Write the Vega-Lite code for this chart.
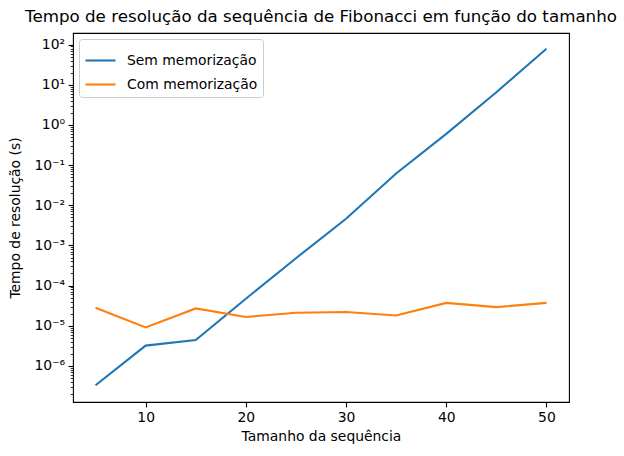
{
  "$schema": "https://vega.github.io/schema/vega-lite/v6.json",
  "autosize": {"type": "none"},
  "width": 496,
  "height": 369,
  "padding": {"left": 73, "top": 33, "right": 55, "bottom": 54},
  "background": "white",
  "config": {
    "font": "DejaVu Sans",
    "view": {"stroke": "black", "strokeWidth": 1.1},
    "axis": {
      "domain": false,
      "grid": false,
      "tickColor": "black",
      "tickWidth": 1.1,
      "tickSize": 4.9,
      "labelColor": "black",
      "labelFontSize": 13.9,
      "labelFont": "DejaVu Sans",
      "labelPadding": 3.5,
      "titleFont": "DejaVu Sans",
      "titleFontSize": 13.9,
      "titleFontWeight": "normal",
      "titleColor": "black"
    }
  },
  "title": {
    "text": "Tempo de resolução da sequência de Fibonacci em função do tamanho",
    "fontSize": 16.7,
    "fontWeight": "normal",
    "font": "DejaVu Sans",
    "color": "black",
    "anchor": "middle",
    "offset": 7
  },
  "data": {
    "values": [
      {"n": 5, "serie": "Sem memorização", "t": 3.3e-7},
      {"n": 10, "serie": "Sem memorização", "t": 3.2e-6},
      {"n": 15, "serie": "Sem memorização", "t": 4.4e-6},
      {"n": 20, "serie": "Sem memorização", "t": 4.7e-5},
      {"n": 25, "serie": "Sem memorização", "t": 4.8e-4},
      {"n": 30, "serie": "Sem memorização", "t": 4.6e-3},
      {"n": 35, "serie": "Sem memorização", "t": 0.062},
      {"n": 40, "serie": "Sem memorização", "t": 0.6},
      {"n": 45, "serie": "Sem memorização", "t": 6.5},
      {"n": 50, "serie": "Sem memorização", "t": 79},
      {"n": 5, "serie": "Com memorização", "t": 2.8e-5},
      {"n": 10, "serie": "Com memorização", "t": 9.1e-6},
      {"n": 15, "serie": "Com memorização", "t": 2.7e-5},
      {"n": 20, "serie": "Com memorização", "t": 1.65e-5},
      {"n": 25, "serie": "Com memorização", "t": 2.1e-5},
      {"n": 30, "serie": "Com memorização", "t": 2.2e-5},
      {"n": 35, "serie": "Com memorização", "t": 1.8e-5},
      {"n": 40, "serie": "Com memorização", "t": 3.7e-5},
      {"n": 45, "serie": "Com memorização", "t": 2.9e-5},
      {"n": 50, "serie": "Com memorização", "t": 3.7e-5}
    ]
  },
  "layer": [
    {
      "mark": {"type": "line", "strokeWidth": 2.1, "opacity": 0},
      "encoding": {
        "x": {
          "field": "n", "type": "quantitative",
          "scale": {"domain": [2.75, 52.25], "nice": false, "zero": false},
          "axis": {"title": "Tamanho da sequência", "values": [10, 20, 30, 40, 50], "titlePadding": 5}
        },
        "y": {
          "field": "t", "type": "quantitative",
          "scale": {"type": "log", "domain": [1.26e-7, 195], "nice": false},
          "axis": {
            "orient": "left",
            "title": null,
            "labels": false,
            "tickSize": 2.8,
            "tickWidth": 0.8,
            "values": [2e-7,3e-7,4e-7,5e-7,6e-7,7e-7,8e-7,9e-7,2e-6,3e-6,4e-6,5e-6,6e-6,7e-6,8e-6,9e-6,2e-5,3e-5,4e-5,5e-5,6e-5,7e-5,8e-5,9e-5,2e-4,3e-4,4e-4,5e-4,6e-4,7e-4,8e-4,9e-4,2e-3,3e-3,4e-3,5e-3,6e-3,7e-3,8e-3,9e-3,0.02,0.03,0.04,0.05,0.06,0.07,0.08,0.09,0.2,0.3,0.4,0.5,0.6,0.7,0.8,0.9,2,3,4,5,6,7,8,9,20,30,40,50,60,70,80,90]
          }
        },
        "detail": {"field": "serie"}
      }
    },
    {
      "mark": {"type": "line", "strokeWidth": 2.1},
      "encoding": {
        "x": {
          "field": "n", "type": "quantitative",
          "scale": {"domain": [2.75, 52.25], "nice": false, "zero": false},
          "axis": {"title": "Tamanho da sequência", "values": [10, 20, 30, 40, 50], "titlePadding": 5}
        },
        "y": {
          "field": "t", "type": "quantitative",
          "scale": {"type": "log", "domain": [1.26e-7, 195], "nice": false},
          "axis": {
            "orient": "left",
            "title": "Tempo de resolução (s)",
            "titlePadding": 12,
            "values": [1e-6, 1e-5, 1e-4, 1e-3, 1e-2, 1e-1, 1, 10, 100],
            "labelExpr": "'10' + ['⁻⁷','⁻⁶','⁻⁵','⁻⁴','⁻³','⁻²','⁻¹','⁰','¹','²'][round(log(datum.value)/LN10)+7]"
          }
        },
        "color": {
          "field": "serie", "type": "nominal",
          "scale": {"domain": ["Sem memorização", "Com memorização"], "range": ["#1f77b4", "#ff7f0e"]},
          "legend": {
            "title": null,
            "orient": "top-left",
            "offset": 6,
            "symbolType": "stroke",
            "symbolSize": 900,
            "symbolStrokeWidth": 2.1,
            "rowPadding": -9,
            "labelFontSize": 13.9,
            "labelFont": "DejaVu Sans",
            "labelColor": "black",
            "labelOffset": 10,
            "padding": 5,
            "fillColor": "white",
            "strokeColor": "#cccccc",
            "cornerRadius": 3
          }
        }
      }
    }
  ],
  "resolve": {"axis": {"y": "independent"}}
}
